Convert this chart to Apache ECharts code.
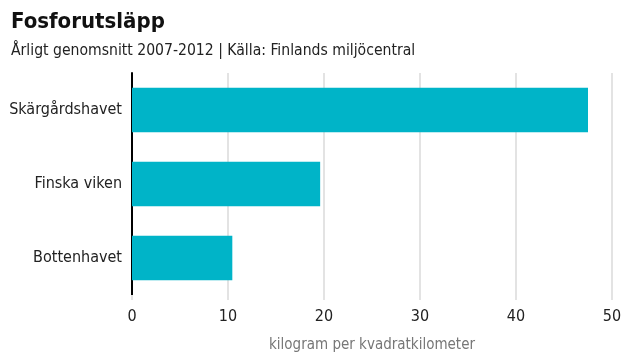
<!DOCTYPE html>
<html><head><meta charset="utf-8">
<script src="https://cdn.jsdelivr.net/npm/echarts@6/dist/echarts.min.js"></script>
<style>html,body{margin:0;padding:0;background:#fff}#c{width:640px;height:360px}</style>
</head><body><div id="c"></div>
<script>
const categories = ['Skärgårdshavet', 'Finska viken', 'Bottenhavet'];
const values = [47.5, 19.6, 10.45];
const xTicks = [0, 10, 20, 30, 40, 50];
const titleText = 'Fosforutsläpp';
const subtitleText = 'Årligt genomsnitt 2007-2012 | Källa: Finlands miljöcentral';
const axisName = 'kilogram per kvadratkilometer';

const FONT = '"DejaVu Sans Condensed", sans-serif';
const chart = echarts.init(document.getElementById('c'), null, {renderer: 'canvas'});
chart.setOption({
  animation: false,
  title: {
    text: titleText, subtext: subtitleText, left: 6, top: 6, itemGap: 10,
    textStyle: {fontFamily: FONT, fontSize: 22, fontWeight: 'bold', color: '#111'},
    subtextStyle: {fontFamily: FONT, fontSize: 15.6, color: '#222'}
  },
  grid: {left: 132, right: 28, top: 73, bottom: 65, containLabel: false},
  xAxis: {
    type: 'value', min: xTicks[0], max: xTicks[xTicks.length - 1], interval: 10,
    name: axisName, nameLocation: 'middle', nameGap: 43,
    nameTextStyle: {fontFamily: FONT, fontSize: 15, color: '#777'},
    axisLine: {show: false},
    axisTick: {show: true, length: 5, lineStyle: {color: '#e3e3e3', width: 2}},
    axisLabel: {fontFamily: FONT, fontSize: 16, color: '#222', margin: 14},
    splitLine: {show: true, lineStyle: {color: '#e3e3e3', width: 2}}
  },
  yAxis: {
    type: 'category', data: categories, inverse: true,
    axisLine: {show: true, onZero: false, lineStyle: {color: '#000', width: 2}},
    axisTick: {show: false},
    axisLabel: {fontFamily: FONT, fontSize: 16, color: '#222', margin: 10}
  },
  series: [{
    type: 'bar', data: values, barWidth: '60%',
    itemStyle: {color: '#00b4c8'}
  }]
});
</script></body></html>
